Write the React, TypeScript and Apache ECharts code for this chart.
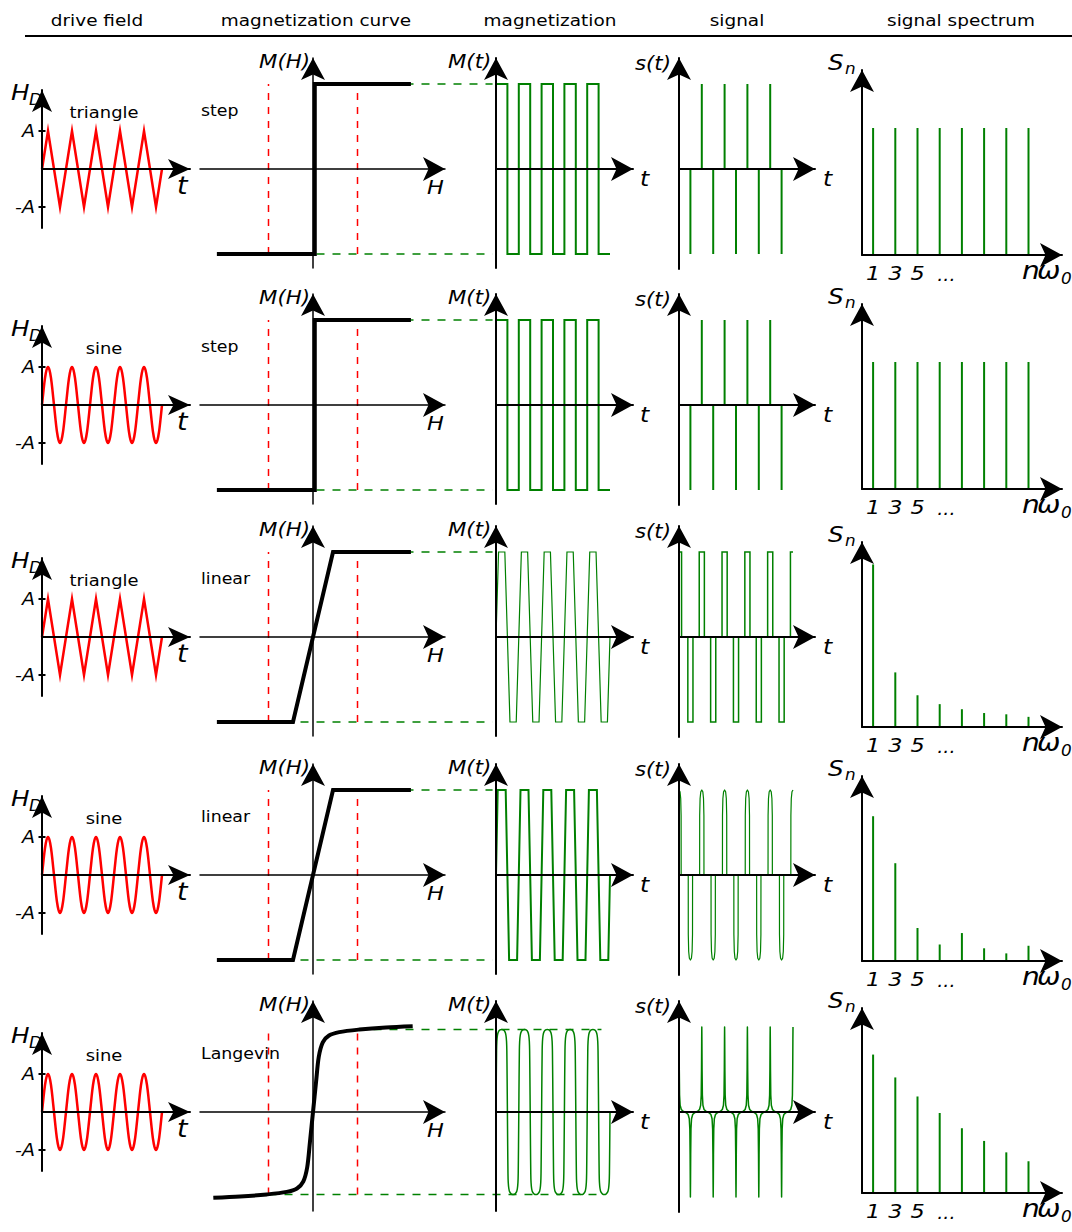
import React, { useEffect, useRef } from "react";
import * as echarts from "echarts";

const CHART_W = 1072;
const CHART_H = 1232;
const FONT = "DejaVu Sans";
const TEXT_SX = 1.12;
const RED = "#ff0000";
const GREEN = "#008000";
const BLACK = "#000000";

// ---------- headers ----------
const HEADERS = ["drive field", "magnetization curve", "magnetization", "signal", "signal spectrum"];
const HEADER_X = [97, 316, 550, 737, 961];

// ---------- rows ----------
const ROW_Y = [169, 405, 637, 875, 1112];
const SPEC_Y = [255, 489, 727, 961, 1193];
const DRIVE_KIND = ["triangle", "sine", "triangle", "sine", "sine"];
const CURVE_KIND = ["step", "step", "linear", "linear", "Langevin"];

// ---------- drive field (time in quarter periods, one half period listed) ----------
const N_HALVES = 10;
const T_END = 20;
const TRI_HALF_T = [0, 1];
const TRI_HALF_V = [0, 1];
const SINE_HALF_T = [0, 0.25, 0.5, 0.75, 1, 1.25, 1.5, 1.75];
const SINE_HALF_V = [0, 0.38, 0.71, 0.92, 1, 0.92, 0.71, 0.38];
const A_TICKS = [1, -1];
const A_LABELS = ["A", "-A"];

// ---------- magnetization curves M(H) ----------
const STEP_H = [-2.16, 0.04, 0.04, 2.2];
const STEP_M = [-1, -1, 1, 1];
const LIN_H = [-2.16, -0.45, 0.45, 2.2];
const LIN_M = [-1, -1, 1, 1];
const LANG_H = [-2.24, -1.64, -1.04, -0.59, -0.36, -0.22, -0.13, -0.07, 0, 0.07, 0.13, 0.22, 0.36, 0.59, 1.04, 1.64, 2.24];
const LANG_M = [-1.01, -0.995, -0.97, -0.94, -0.9, -0.82, -0.65, -0.36, 0, 0.36, 0.65, 0.82, 0.9, 0.94, 0.97, 0.995, 1.01];
const M_AT_A = [1, 1, 1, 1, 0.97];
// green guide lines end (time value inside the M(t) panel)
const GUIDE_END_T = [-0.6, -0.6, -0.6, -0.6, 18.5];

// ---------- magnetization M(t) (one half period each) ----------
const MT_STEP_T = [0, 2];
const MT_STEP_V = [1, 1];
const MT_TRILIN_T = [0, 0.45, 1.55];
const MT_TRILIN_V = [0, 1, 1];
const MT_SINLIN_T = [0, 0.3, 1.7];
const MT_SINLIN_V = [0, 1, 1];
const MT_LANG_T = [0, 0.05, 0.1, 0.15, 0.25, 0.4, 0.7, 1, 1.3, 1.6, 1.75, 1.85, 1.9, 1.95];
const MT_LANG_V = [0, 0.4, 0.72, 0.83, 0.9, 0.94, 0.965, 0.97, 0.965, 0.94, 0.9, 0.83, 0.72, 0.4];
const MT_END_V = [-1, -1, 0, 0, 0];

// ---------- signal s(t) ----------
const SPIKE_T = [0, 2, 4, 6, 8, 10, 12, 14, 16, 18];
const SPIKE_V = [0.5, -1, 1, -1, 1, -1, 1, -1, 1, -1];
const ST_TRILIN_T = [0, 0.45, 0.45, 1.55, 1.55];
const ST_TRILIN_V = [1, 1, 0, 0, -1];
const ST_SINLIN_T = [0, 0.18, 0.3, 0.37, 0.38, 1.62, 1.63, 1.7, 1.82];
const ST_SINLIN_V = [1, 0.98, 0.9, 0.7, 0, 0, -0.7, -0.9, -0.98];
const ST_LANG_T = [0, 0.02, 0.05, 0.1, 0.2, 0.4, 0.7, 1, 1.3, 1.6, 1.8, 1.9, 1.95, 1.98];
const ST_LANG_V = [1, 0.85, 0.5, 0.2, 0.08, 0.03, 0.01, 0, -0.01, -0.03, -0.08, -0.2, -0.5, -0.85];
const ST_END_V = 1;

// ---------- spectrum ----------
const HARMONICS = [1, 3, 5, 7, 9, 11, 13, 15];
const SPEC_ROWS = [
  [1, 1, 1, 1, 1, 1, 1, 1],
  [1, 1, 1, 1, 1, 1, 1, 1],
  [1.28, 0.43, 0.25, 0.18, 0.14, 0.11, 0.1, 0.08],
  [1.14, 0.77, 0.26, 0.13, 0.22, 0.1, 0.06, 0.12],
  [1.09, 0.91, 0.76, 0.63, 0.51, 0.41, 0.32, 0.25],
];
const HARM_LABELS = ["1", "3", "5"];
const HARM_LABEL_N = [1, 3, 5];
const DOTS_N = 7.6;

// ---------- helpers ----------
function wave(halfT: number[], halfV: number[], endV: number) {
  const pts: number[][] = [];
  for (let k = 0; k < N_HALVES; k++) {
    const s = k % 2 === 0 ? 1 : -1;
    for (let i = 0; i < halfT.length; i++) pts.push([halfT[i] + 2 * k, s * halfV[i]]);
  }
  pts.push([T_END, endV]);
  return pts;
}
function zipXY(xs: number[], ys: number[]) {
  return xs.map((x, i) => [x, ys[i]]);
}

type Frame = {
  ox: number; oy: number; sx: number; sy: number;
  left: number; tipX: number; tipY: number; bottom: number;
  sym: number[]; lw: number;
};

function frameOf(r: number, c: number): Frame {
  const y0 = ROW_Y[r];
  if (c === 0) return { ox: 42, oy: y0, sx: 6, sy: 38, left: 42, tipX: 190, tipY: y0 - 79, bottom: y0 + 59, sym: [15, 22], lw: 2 };
  if (c === 1) return { ox: 313, oy: y0, sx: 44.5, sy: 85, left: 200, tipX: 445, tipY: y0 - 111, bottom: y0 + 99, sym: [18, 22], lw: 1.5 };
  if (c === 2) return { ox: 496, oy: y0, sx: 5.7, sy: 85, left: 496, tipX: 633, tipY: y0 - 111, bottom: y0 + 99, sym: [18, 22], lw: 2 };
  if (c === 3) return { ox: 679, oy: y0, sx: 5.7, sy: 85, left: 679, tipX: 815, tipY: y0 - 111, bottom: y0 + 100, sym: [18, 22], lw: 2 };
  const ys = SPEC_Y[r];
  return { ox: 862, oy: ys, sx: 11.1, sy: 127, left: 862, tipX: 1062, tipY: ys - 185, bottom: ys, sym: [18, 22], lw: 2 };
}

function txt(text: string, x: number, y: number, size: number, italic = false, align = "left") {
  return {
    type: "text",
    x,
    y,
    scaleX: TEXT_SX,
    z: 20,
    silent: true,
    style: {
      text,
      fontSize: size,
      fontFamily: FONT,
      fontStyle: italic ? "italic" : "normal",
      fill: BLACK,
      textAlign: align,
      align,
      textVerticalAlign: "middle",
      verticalAlign: "middle",
    },
  };
}

function lineSeries(gi: number, data: any[], color: string, width: number, extra: any = {}) {
  return {
    type: "line",
    xAxisIndex: gi,
    yAxisIndex: gi,
    data,
    showSymbol: false,
    symbol: "none",
    silent: true,
    clip: false,
    z: extra.z ?? 2,
    smooth: extra.smooth ?? false,
    lineStyle: {
      color,
      width,
      type: extra.dash ?? "solid",
      join: extra.join ?? "round",
      miterLimit: 12,
      cap: "butt",
    },
  };
}

function barSeries(gi: number, data: any[], width: number) {
  return {
    type: "bar",
    xAxisIndex: gi,
    yAxisIndex: gi,
    data,
    barWidth: width,
    silent: true,
    z: 2,
    itemStyle: { color: GREEN },
  };
}

function buildOption() {
  const grid: any[] = [];
  const xAxis: any[] = [];
  const yAxis: any[] = [];
  const series: any[] = [];
  const graphic: any[] = [];

  HEADERS.forEach((h, i) => graphic.push(txt(h, HEADER_X[i], 20, 16.5, false, "center")));
  graphic.push({ type: "line", z: 20, silent: true, shape: { x1: 25, y1: 36, x2: CHART_W, y2: 36 }, style: { stroke: BLACK, lineWidth: 2 } });

  for (let r = 0; r < 5; r++) {
    const y0 = ROW_Y[r];
    for (let c = 0; c < 5; c++) {
      const f = frameOf(r, c);
      const gi = r * 5 + c;
      const gl = f.left;
      const gr = f.tipX;
      const gt = f.tipY;
      const gb = f.bottom;
      grid.push({ left: gl, top: gt, width: gr - gl, height: gb - gt, containLabel: false });
      const axisCommon = {
        type: "value",
        gridIndex: gi,
        z: 5,
        axisLine: {
          show: true,
          onZero: true,
          symbol: ["none", "arrow"],
          symbolSize: f.sym,
          lineStyle: { color: BLACK, width: f.lw },
        },
        axisTick: { show: false },
        axisLabel: { show: false },
        splitLine: { show: false },
      };
      xAxis.push({ ...axisCommon, min: (gl - f.ox) / f.sx, max: (gr - f.ox) / f.sx });
      yAxis.push({ ...axisCommon, min: -(gb - f.oy) / f.sy, max: (f.oy - gt) / f.sy });

      if (c === 0) {
        const tri = DRIVE_KIND[r] === "triangle";
        const d = tri ? wave(TRI_HALF_T, TRI_HALF_V, 0) : wave(SINE_HALF_T, SINE_HALF_V, 0);
        series.push(lineSeries(gi, d, RED, 2.5, { smooth: tri ? false : 0.3, join: tri ? "miter" : "round" }));
        graphic.push(txt("H", 11, y0 - 77, 22, true));
        graphic.push(txt("D", 29, y0 - 69, 15, true));
        A_TICKS.forEach((a, i) => graphic.push(txt(A_LABELS[i], 35, f.oy - a * f.sy, 17, true, "right")));
        graphic.push(txt("t", 177, y0 + 17, 24, true));
        graphic.push(txt(DRIVE_KIND[r], 104, y0 - 57, 16, false, "center"));
      } else if (c === 1) {
        const ma = M_AT_A[r];
        [-1, 1].forEach((s) => series.push(lineSeries(gi, [[s, -ma], [s, ma]], RED, 1.5, { dash: [7, 7], z: 1 })));
        let d: number[][];
        if (CURVE_KIND[r] === "step") d = zipXY(STEP_H, STEP_M);
        else if (CURVE_KIND[r] === "linear") d = zipXY(LIN_H, LIN_M);
        else d = zipXY(LANG_H, LANG_M);
        series.push(lineSeries(gi, d, BLACK, 4, { z: 3, smooth: CURVE_KIND[r] === "Langevin" ? 0.3 : false, join: "miter" }));
        graphic.push(txt(CURVE_KIND[r], 201, y0 - 58, 15.5));
        graphic.push(txt("M(H)", 310, y0 - 108, 19, true, "right"));
        graphic.push(txt("H", 427, y0 + 18, 20, true));
      } else if (c === 2) {
        let d: number[][];
        let w = 2;
        let sm: any = false;
        if (r <= 1) d = wave(MT_STEP_T, MT_STEP_V, MT_END_V[r]);
        else if (r === 2) { d = wave(MT_TRILIN_T, MT_TRILIN_V, MT_END_V[r]); w = 1.2; }
        else if (r === 3) d = wave(MT_SINLIN_T, MT_SINLIN_V, MT_END_V[r]);
        else { d = wave(MT_LANG_T, MT_LANG_V, MT_END_V[r]); w = 1.5; sm = 0.2; }
        series.push(lineSeries(gi, d, GREEN, w, { smooth: sm, join: "miter" }));
        graphic.push(txt("M(t)", 448, y0 - 108, 19, true));
        graphic.push(txt("t", 640, y0 + 9, 21, true));
      } else if (c === 3) {
        if (r <= 1) {
          series.push(barSeries(gi, zipXY(SPIKE_T, SPIKE_V), 2));
        } else if (r === 2) {
          series.push(lineSeries(gi, wave(ST_TRILIN_T, ST_TRILIN_V, ST_END_V), GREEN, 1.5, { join: "miter" }));
        } else if (r === 3) {
          series.push(lineSeries(gi, wave(ST_SINLIN_T, ST_SINLIN_V, ST_END_V), GREEN, 1.2));
        } else {
          series.push(lineSeries(gi, wave(ST_LANG_T, ST_LANG_V, ST_END_V), GREEN, 1.5));
        }
        graphic.push(txt("s(t)", 635, y0 - 106, 19, true));
        graphic.push(txt("t", 823, y0 + 9, 21, true));
      } else {
        series.push(barSeries(gi, zipXY(HARMONICS, SPEC_ROWS[r]), 2));
        const ys = f.oy;
        graphic.push(txt("S", 828, ys - 193, 22, true));
        graphic.push(txt("n", 845, ys - 186, 15, true));
        HARM_LABEL_N.forEach((n, i) => graphic.push(txt(HARM_LABELS[i], f.ox + n * f.sx, ys + 18, 20, true, "center")));
        graphic.push(txt("...", f.ox + DOTS_N * f.sx, ys + 20, 17, true, "center"));
        graphic.push(txt("n", 1022, ys + 15, 25, true));
        graphic.push(txt("ω", 1037, ys + 15, 25, true));
        graphic.push(txt("0", 1061, ys + 24, 15, true));
      }
    }
  }

  return {
    option: {
      animation: false,
      backgroundColor: "#ffffff",
      grid,
      xAxis,
      yAxis,
      series,
      graphic: { elements: graphic },
    },
    graphic,
  };
}

export default function App() {
  const ref = useRef<HTMLDivElement>(null);
  useEffect(() => {
    if (!ref.current) return;
    const chart = echarts.init(ref.current, null, { renderer: "svg" });
    const { option, graphic } = buildOption();
    chart.setOption(option as any);

    // guide lines and ticks placed through the charts' own coordinate systems
    const extra: any[] = [];
    for (let r = 0; r < 5; r++) {
      const ma = M_AT_A[r];
      const giH = r * 5 + 1;
      const giT = r * 5 + 2;
      const giD = r * 5;
      const endX = (chart.convertToPixel({ gridIndex: giT } as any, [GUIDE_END_T[r], ma]) as number[])[0];
      [1, -1].forEach((s) => {
        const p = chart.convertToPixel({ gridIndex: giH } as any, [s, s * ma]) as number[];
        extra.push({
          type: "line",
          z: 1,
          silent: true,
          shape: { x1: p[0], y1: p[1], x2: endX, y2: p[1] },
          style: { stroke: GREEN, lineWidth: 1.5, lineDash: [8, 8] },
        });
      });
      A_TICKS.forEach((a) => {
        const p = chart.convertToPixel({ gridIndex: giD } as any, [0, a]) as number[];
        extra.push({
          type: "line",
          z: 20,
          silent: true,
          shape: { x1: p[0] - 3.5, y1: p[1], x2: p[0] + 3.5, y2: p[1] },
          style: { stroke: BLACK, lineWidth: 2 },
        });
      });
    }
    chart.setOption({ graphic: { elements: [...graphic, ...extra] } } as any);
    return () => chart.dispose();
  }, []);
  return (
    <div
      ref={ref}
      style={{ position: "absolute", left: 0, top: 0, width: CHART_W, height: CHART_H, background: "#fff" }}
    />
  );
}
